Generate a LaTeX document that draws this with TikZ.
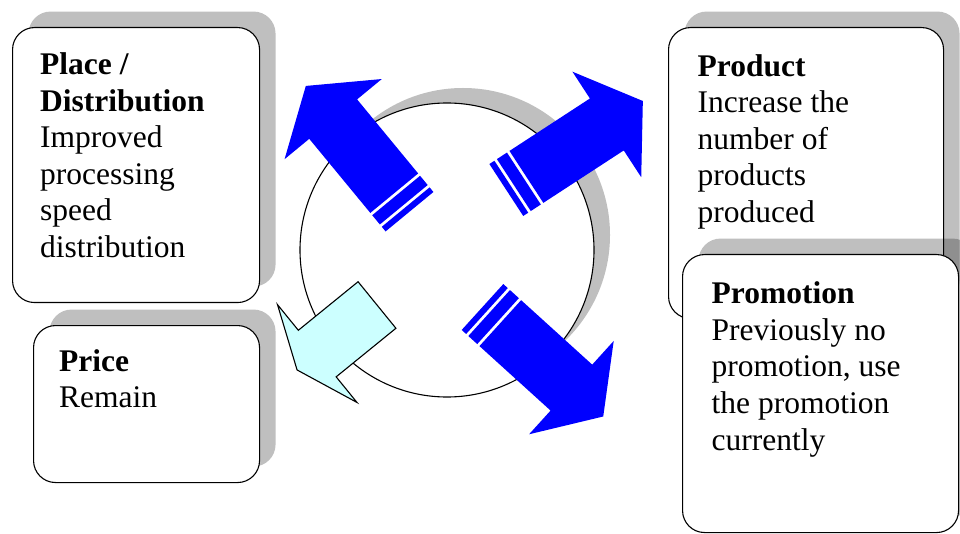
\documentclass[tikz,border=0pt]{standalone}
\usepackage{xcolor}
\usepackage{fontspec}
\setmainfont{Liberation Serif}
\usepackage{tikz}
\usetikzlibrary{shapes.geometric, arrows}
\usetikzlibrary{positioning, shadows}

\definecolor{arrowblue}{HTML}{0000FF}
\definecolor{paleblue}{HTML}{CCFFFF}

\begin{document}
\begin{tikzpicture}[
        x=1pt, y=-1pt, % 按像素坐标
        infobox/.style={rectangle, rounded corners=22pt, anchor=north west, draw=black, line width=1.1pt, fill=white, general shadow={fill=black, opacity=0.25, shadow xshift=16pt, shadow yshift=16pt}},
        boxtext/.style={anchor=base west, inner sep=0pt, align=left, font=\fontsize{31.5}{36.6}\selectfont}, % base = 最后一行基线
        hub/.style={circle, minimum size=294pt, draw=black, line width=1.1pt, fill=white, general shadow={fill=black, opacity=0.25, shadow xshift=16pt, shadow yshift=15pt}},
        bluearrow/.pic={
            \fill[arrowblue] (0,-31) rectangle (6,31);
            \fill[arrowblue] (9,-31) rectangle (21,31);
            \fill[arrowblue] (24,-31) -- (120,-31) -- (120,-63) -- (163,0) -- (120,63) -- (120,31) -- (24,31) -- cycle;
        },
        backarrow/.pic={
            \draw[fill=paleblue, line width=1.1pt, line join=miter] (0,-30) -- (77,-30) -- (77,-63) -- (103,0) -- (77,63) -- (77,30) -- (0,30) -- cycle;
        }
    ]
        \clip (0,0) rectangle (960,534);

        % ===== 四个方框 =====
        \node (placeBox) [infobox, minimum width=247pt, minimum height=275pt] at (12,27) {};
        \node (placeText) [boxtext] at (40,257.5) {\textbf{Place /}\\\textbf{Distribution}\\Improved\\processing\\speed\\distribution};

        \node (priceBox) [infobox, minimum width=226pt, minimum height=157pt] at (33,325) {};
        \node (priceText) [boxtext] at (59,407.6) {\textbf{Price}\\Remain};

        \node (productBox) [infobox, minimum width=275pt, minimum height=291pt] at (668,27) {};
        \node (productText) [boxtext] at (697.5,222.5) {\textbf{Product}\\Increase the\\number of\\products\\produced};

        \node (promoBox) [infobox, minimum width=276pt, minimum height=278pt] at (682,254) {};
        \node (promoText) [boxtext] at (711.5,450) {\textbf{Promotion}\\Previously no\\promotion, use\\the promotion\\currently};

        % ===== 中间圆和箭头 =====
        \node (hub) [hub] at (447,250) {};

        \pic (upLeft) [rotate=129.5] at (409.5,211.7) {bluearrow};
        \pic (upRight) [rotate=33.1] at (506.3,190) {bluearrow};
        \pic (downRight) [rotate=-42.2] at (482.5,307) {bluearrow};
        \pic (downLeft) [rotate=219.1] at (377,305) {backarrow};

    \end{tikzpicture}
\end{document}
